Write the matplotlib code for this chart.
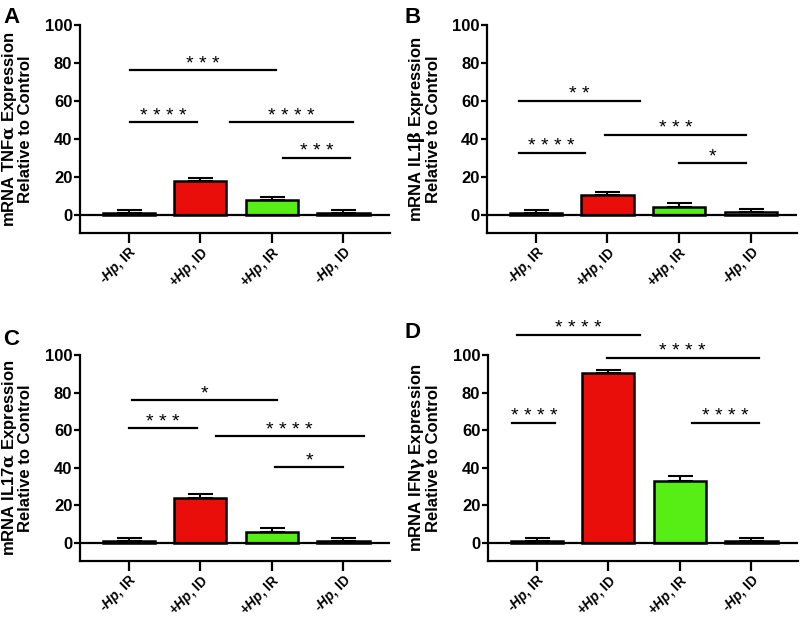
import numpy as np
import matplotlib
matplotlib.use('Agg')
import matplotlib.pyplot as plt

plt.rcParams['font.family'] = ['Liberation Sans', 'DejaVu Sans']
plt.rcParams['font.weight'] = 'bold'
plt.rcParams['mathtext.fontset'] = 'custom'
plt.rcParams['mathtext.it'] = 'Liberation Sans:italic:bold'
plt.rcParams['mathtext.bf'] = 'Liberation Sans:bold'
plt.rcParams['mathtext.rm'] = 'DejaVu Serif'

# groups on the x axis
categories = [r'-$\it{Hp}$, IR', r'+$\it{Hp}$, ID', r'+$\it{Hp}$, IR', r'-$\it{Hp}$, ID']
bar_colors = ['white', '#EA0E0A', '#57EE16', 'white']

# mean and SEM
tnf_mean = [1.0, 17.5, 7.5, 1.0]
tnf_err = [1.3, 1.6, 2.0, 1.3]
il1b_mean = [1.0, 10.1, 4.0, 1.2]
il1b_err = [1.4, 1.8, 1.9, 1.8]
il17_mean = [0.9, 24.0, 5.8, 0.8]
il17_err = [1.4, 2.0, 2.1, 1.5]
ifng_mean = [0.8, 90.3, 32.9, 0.8]
ifng_err = [1.5, 1.6, 2.5, 1.5]

# significance lines: (x start, x end, y, stars)
tnf_sig = [(0.02, 2.06, 76, '***'), (0.02, 0.96, 48.6, '****'),
           (1.41, 3.14, 48.6, '****'), (2.16, 3.09, 30, '***')]
il1b_sig = [(-0.24, 1.46, 60, '**'), (-0.24, 0.68, 32.6, '****'),
            (0.97, 2.93, 42, '***'), (2.0, 2.93, 27, '*')]
il17_sig = [(0.04, 2.07, 76.3, '*'), (0.0, 0.95, 60.9, '***'),
            (1.22, 3.28, 56.7, '****'), (2.05, 2.99, 40.4, '*')]
ifng_sig = [(-0.27, 1.44, 110.9, '****'), (0.98, 3.1, 98.6, '****'),
            (-0.34, 0.26, 63.9, '****'), (2.17, 3.1, 63.9, '****')]

# letter, y label, means, errors, sig lines, axes rect, letter position
panels = [
    ('A', r'mRNA TNF$\mathrm{\alpha}$ Expression', tnf_mean, tnf_err, tnf_sig,
     [0.100, 0.6248, 0.3875, 0.335], (3, 23)),
    ('B', r'mRNA IL1$\mathrm{\beta}$ Expression', il1b_mean, il1b_err, il1b_sig,
     [0.609, 0.6248, 0.3875, 0.335], (405, 23)),
    ('C', r'mRNA IL17$\mathrm{\alpha}$ Expression', il17_mean, il17_err, il17_sig,
     [0.100, 0.0966, 0.3875, 0.3317], (3, 345)),
    ('D', r'mRNA IFN$\mathrm{\gamma}$ Expression', ifng_mean, ifng_err, ifng_sig,
     [0.610, 0.0966, 0.3875, 0.3317], (405, 338)),
]

fig = plt.figure(figsize=(8, 6.21), dpi=100)

for letter, label, means, errs, sigs, rect, lpos in panels:
    ax = fig.add_axes(rect)
    x = np.arange(len(categories))
    ax.bar(x, means, width=0.73, color=bar_colors, edgecolor='black', linewidth=1.8, zorder=2)
    ax.errorbar(x, means, yerr=[np.zeros(len(errs)), errs], fmt='none', ecolor='black',
                elinewidth=1.5, capsize=9, capthick=1.5, zorder=3)
    ax.axhline(0, color='black', lw=1.6, zorder=4)

    for x0, x1, y, stars in sigs:
        ax.plot([x0, x1], [y, y], color='black', lw=1.6, clip_on=False)
        ax.text((x0 + x1) / 2, y + 0.8, ' '.join(stars), ha='center', va='baseline',
                fontsize=14, fontweight='normal', clip_on=False)

    ax.set_xlim(-0.68, 3.65)
    ax.set_ylim(-9.7, 100)
    ax.set_yticks([0, 20, 40, 60, 80, 100])
    ax.set_xticks(x)
    ax.set_xticklabels(categories, rotation=45, ha='right', va='top', rotation_mode='anchor')
    ax.tick_params(axis='y', labelsize=12, width=1.6, length=4, pad=1.5)
    ax.tick_params(axis='x', labelsize=9.8, width=1.6, length=7, pad=1)
    for t in ax.get_xticklabels() + ax.get_yticklabels():
        t.set_fontweight('bold')
    ax.spines['top'].set_visible(False)
    ax.spines['right'].set_visible(False)
    ax.spines['left'].set_linewidth(1.6)
    ax.spines['bottom'].set_linewidth(1.6)

    ax.set_ylabel(label + '\nRelative to Control', fontsize=12, fontweight='bold',
                  linespacing=0.92)
    ax.yaxis.set_label_coords(-0.15, 0.5)

    fig.text(lpos[0] / 800, 1 - lpos[1] / 621, letter, fontsize=16,
             fontweight='bold', ha='left', va='baseline')

fig.savefig('out.png', dpi=100)
